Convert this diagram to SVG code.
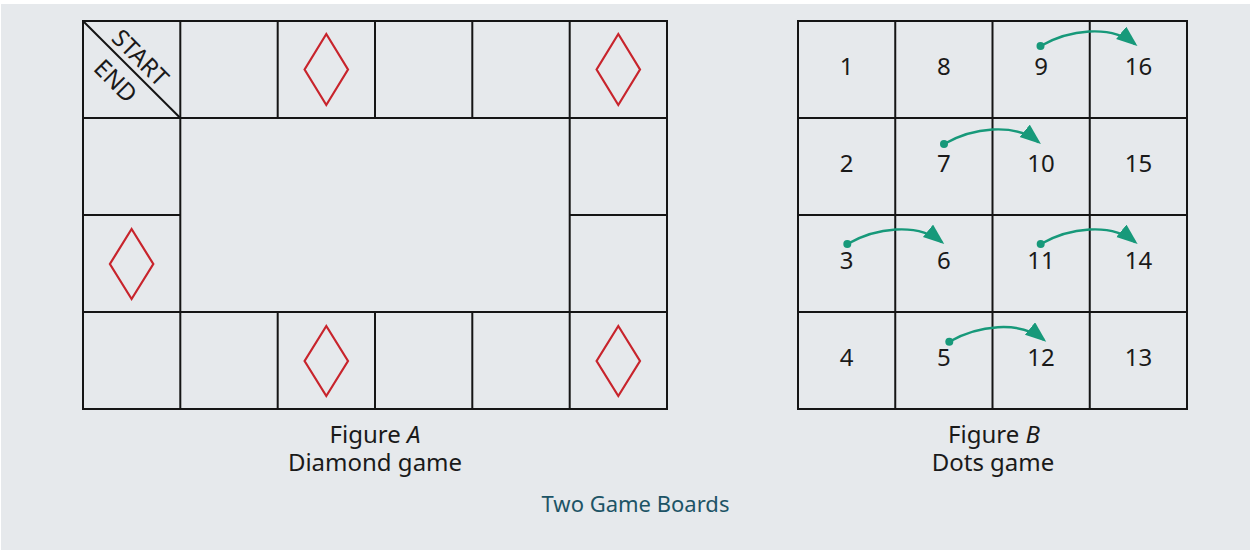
<svg xmlns="http://www.w3.org/2000/svg" width="1250" height="550" viewBox="0 0 1250 550">
<style>
.grid{fill:none;stroke:#151515;stroke-width:2}
.dia{fill:none;stroke:#c8242c;stroke-width:2.2}
.num{font-family:"Noto Sans","Open Sans",sans-serif;font-size:24px;fill:#1a1a1a;text-anchor:middle}
.cap{font-family:"Noto Sans","Open Sans",sans-serif;font-size:24px;fill:#1a1a1a;text-anchor:middle}
.title{font-family:"Noto Sans","Open Sans",sans-serif;font-size:22px;fill:#1d5466;text-anchor:middle}
.arc{fill:none;stroke:#17997a;stroke-width:2.4}
.dot{fill:#17997a}
</style>
<defs>
<marker id="ah" markerUnits="userSpaceOnUse" markerWidth="24" markerHeight="18" refX="18" refY="8" orient="auto">
<path d="M0,0 L21,8 L0,16 Z" fill="#17997a"/>
</marker>
</defs>
<rect width="1250" height="550" fill="#ffffff"/>
<rect x="1" y="4" width="1249" height="546" fill="#e6e9ec"/>

<g id="boardA">
<g id="boardA-grid" class="grid">
<rect x="83" y="21" width="584" height="388"/>
<path d="M83,118 H667 M83,312 H667 M83,215 H180.3 M569.7,215 H667 M180.3,21 V409 M569.7,21 V409 M277.7,21 V118 M375,21 V118 M472.3,21 V118 M277.7,312 V409 M375,312 V409 M472.3,312 V409"/>
<path d="M83,21 L180.3,118"/>
</g>
<g id="start-end" class="cap">
<text transform="rotate(45)" x="140" y="-50">START</text>
<text transform="rotate(45)" x="139" y="-16">END</text>
</g>
<g id="diamonds" class="dia">
<polygon points="326.3,34 348,69.5 326.3,105 304.6,69.5"/>
<polygon points="618.3,34 640,69.5 618.3,105 596.6,69.5"/>
<polygon points="131.6,229 153.3,264 131.6,299 109.9,264"/>
<polygon points="326.3,326 348,361 326.3,396 304.6,361"/>
<polygon points="618.3,326 640,361 618.3,396 596.6,361"/>
</g>
<g id="captionA" class="cap">
<text x="375" y="443">Figure <tspan font-style="italic">A</tspan></text>
<text x="375" y="471">Diamond game</text>
</g>
</g>

<g id="boardB">
<g id="boardB-grid" class="grid">
<rect x="798" y="21" width="389" height="388"/>
<path d="M798,118 H1187 M798,215 H1187 M798,312 H1187 M895.25,21 V409 M992.5,21 V409 M1089.75,21 V409"/>
</g>
<g id="numbers" class="num">
<text x="846.6" y="75">1</text><text x="943.9" y="75">8</text><text x="1041.1" y="75">9</text><text x="1138.4" y="75">16</text>
<text x="846.6" y="172">2</text><text x="943.9" y="172">7</text><text x="1041.1" y="172">10</text><text x="1138.4" y="172">15</text>
<text x="846.6" y="269">3</text><text x="943.9" y="269">6</text><text x="1041.1" y="269">11</text><text x="1138.4" y="269">14</text>
<text x="846.6" y="366">4</text><text x="943.9" y="366">5</text><text x="1041.1" y="366">12</text><text x="1138.4" y="366">13</text>
</g>
<g id="captionB" class="cap">
<text x="994" y="443">Figure <tspan font-style="italic">B</tspan></text>
<text x="993" y="471">Dots game</text>
</g>
</g>

<g id="connectors">
<path class="arc" marker-end="url(#ah)" d="M1040.5,46 c28,-16 70,-22 94.6,-1.8"/>
<path class="arc" marker-end="url(#ah)" d="M944,144 c28,-16 70,-22 94.6,-1.8"/>
<path class="arc" marker-end="url(#ah)" d="M847.3,244 c28,-16 70,-22 94.6,-1.8"/>
<path class="arc" marker-end="url(#ah)" d="M1040.7,244 c28,-16 70,-22 94.6,-1.8"/>
<path class="arc" marker-end="url(#ah)" d="M949.3,341.7 c28,-16 70,-22 94.6,-1.8"/>
<circle class="dot" cx="1040.5" cy="46" r="4"/>
<circle class="dot" cx="944" cy="144" r="4"/>
<circle class="dot" cx="847.3" cy="244" r="4"/>
<circle class="dot" cx="1040.7" cy="244" r="4"/>
<circle class="dot" cx="949.3" cy="341.7" r="4"/>
</g>

<text id="title" class="title" x="635.5" y="512">Two Game Boards</text>
</svg>
